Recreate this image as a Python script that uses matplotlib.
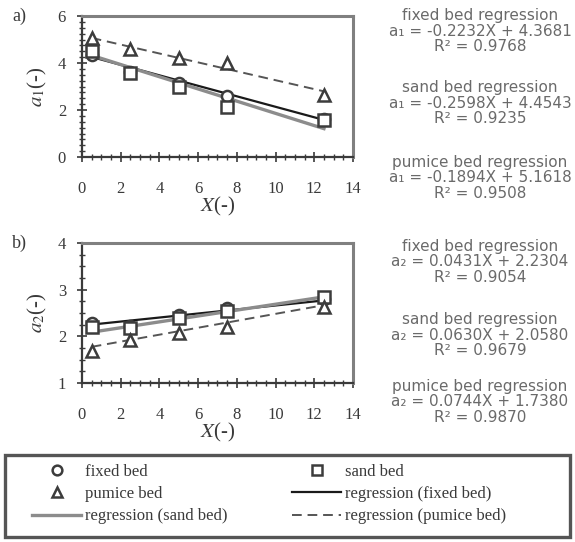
import numpy as np
import matplotlib
matplotlib.use("Agg")
import matplotlib.pyplot as plt
from matplotlib.lines import Line2D
from matplotlib.patches import Rectangle
from matplotlib.ticker import MultipleLocator

plt.rcParams['font.family'] = ['Liberation Serif', 'DejaVu Serif']
plt.rcParams['mathtext.fontset'] = 'stix'

# Measurement positions and coefficients
X = [0.5, 2.5, 5.0, 7.5, 12.5]

a1_fixed = [4.35, 3.62, 3.15, 2.58, 1.60]
a1_sand = [4.50, 3.58, 3.00, 2.12, 1.58]
a1_pumice = [5.08, 4.58, 4.20, 3.98, 2.65]

a2_fixed = [2.28, 2.22, 2.45, 2.60, 2.80]
a2_sand = [2.20, 2.18, 2.40, 2.55, 2.85]
a2_pumice = [1.68, 1.92, 2.08, 2.20, 2.62]

# Regression (slope, intercept, R^2)
reg_a1 = {"fixed": (-0.2232, 4.3681, 0.9768),
          "sand": (-0.2598, 4.4543, 0.9235),
          "pumice": (-0.1894, 5.1618, 0.9508)}
reg_a2 = {"fixed": (0.0431, 2.2304, 0.9054),
          "sand": (0.0630, 2.0580, 0.9679),
          "pumice": (0.0744, 1.7380, 0.9870)}

bed_names = {"fixed": "fixed bed", "sand": "sand bed", "pumice": "pumice bed"}
markers = {"fixed": "o", "sand": "s", "pumice": "^"}
line_styles = {"fixed": dict(color="#1a1a1a", lw=1.6, ls="-"),
               "sand": dict(color="#8c8c8c", lw=2.4, ls="-"),
               "pumice": dict(color="#555555", lw=1.4, ls=(0, (5, 3)))}
mk_color = "#3c3c3c"
ink = "#3a3a3a"

fig = plt.figure(figsize=(5.75, 5.42), dpi=100)
W, H = 575, 542


def px_axes(left, top, right, bottom):
    return fig.add_axes([left / W, 1 - bottom / H, (right - left) / W, (bottom - top) / H])


def style_axes(ax, ylim, yticks, ylabel, tag):
    ax.set_xlim(0, 14)
    ax.set_ylim(*ylim)
    ax.set_xticks(range(0, 15, 2))
    ax.set_yticks(yticks)
    ax.xaxis.set_minor_locator(MultipleLocator(0.5))
    ax.yaxis.set_minor_locator(MultipleLocator(0.25))
    for s in ("top", "right"):
        ax.spines[s].set_color("#808080")
        ax.spines[s].set_linewidth(2.2)
    for s in ("left", "bottom"):
        ax.spines[s].set_color(ink)
        ax.spines[s].set_linewidth(1.6)
    ax.tick_params(axis="x", which="major", direction="inout", length=7, width=1.2,
                   pad=14, labelsize=12, colors=ink)
    ax.tick_params(axis="y", which="major", direction="inout", length=7, width=1.2,
                   pad=8, labelsize=12, colors=ink)
    ax.tick_params(which="minor", direction="inout", length=4, width=1.0, colors=ink)
    ax.set_xlabel("$X$(-)", fontsize=15, labelpad=-2, color=ink)
    ax.set_ylabel(ylabel, fontsize=15, labelpad=6, color=ink)
    ax.text(-0.23, 1.0, tag, transform=ax.transAxes, fontsize=13, color=ink,
            ha="center", va="center")


def draw_panel(ax, data, reg):
    xs = np.array([min(X), max(X)])
    for key in ("fixed", "sand", "pumice"):
        m, b, _ = reg[key]
        ax.plot(xs, m * xs + b, **line_styles[key], zorder=2)
    for key in ("fixed", "sand", "pumice"):
        ax.plot(X, data[key], ls="none", marker=markers[key], ms=8, mfc="white",
                mec=mk_color, mew=1.8, zorder=3, clip_on=False)


def annotate(sym, reg, centers):
    for key, yc in zip(("fixed", "sand", "pumice"), centers):
        m, b, r2 = reg[key]
        sign = "+" if b >= 0 else "-"
        block = (f"{bed_names[key]} regression\n"
                 f"{sym} = {m:.4f}X {sign} {abs(b):.4f}\n"
                 f"R² = {r2:.4f}")
        fig.text(480 / W, 1 - yc / H, block, ha="center", va="center", fontsize=11,
                 linespacing=1.04, color="#6a6a6a",
                 family=["DejaVu Sans", "Liberation Sans"])


ax1 = px_axes(82, 16, 353, 157)
style_axes(ax1, (0, 6), [0, 2, 4, 6], "$a_1$(-)", "a)")
draw_panel(ax1, {"fixed": a1_fixed, "sand": a1_sand, "pumice": a1_pumice}, reg_a1)
annotate("a₁", reg_a1, [31, 103, 178])

ax2 = px_axes(82, 243, 353, 383)
style_axes(ax2, (1, 4), [1, 2, 3, 4], "$a_2$(-)", "b)")
draw_panel(ax2, {"fixed": a2_fixed, "sand": a2_sand, "pumice": a2_pumice}, reg_a2)
annotate("a₂", reg_a2, [262, 335, 402])

# Shared legend box at the bottom
fig.patches.append(Rectangle((5 / W, 5 / H), 565 / W, 82 / H, transform=fig.transFigure,
                             fill=False, edgecolor="#555555", linewidth=2.4))


def mk(key):
    return Line2D([], [], ls="none", marker=markers[key], ms=7, mfc="white", mec=mk_color, mew=1.8)


def ln(key):
    return Line2D([], [], **line_styles[key])


handles = [mk("fixed"), mk("pumice"), ln("sand"), mk("sand"), ln("fixed"), ln("pumice")]
labels = ["fixed bed", "pumice bed", "regression (sand bed)",
          "sand bed", "regression (fixed bed)", "regression (pumice bed)"]
leg = fig.legend(handles, labels, ncol=2, loc="center left",
                 bbox_to_anchor=(24 / W, 1 - 494 / H),
                 fontsize=12, frameon=False, handlelength=2.9,
                 handletextpad=0.25, labelspacing=0.38, borderpad=0.0, columnspacing=3.9,
                 labelcolor=ink)

fig.savefig("out.png", dpi=100)
